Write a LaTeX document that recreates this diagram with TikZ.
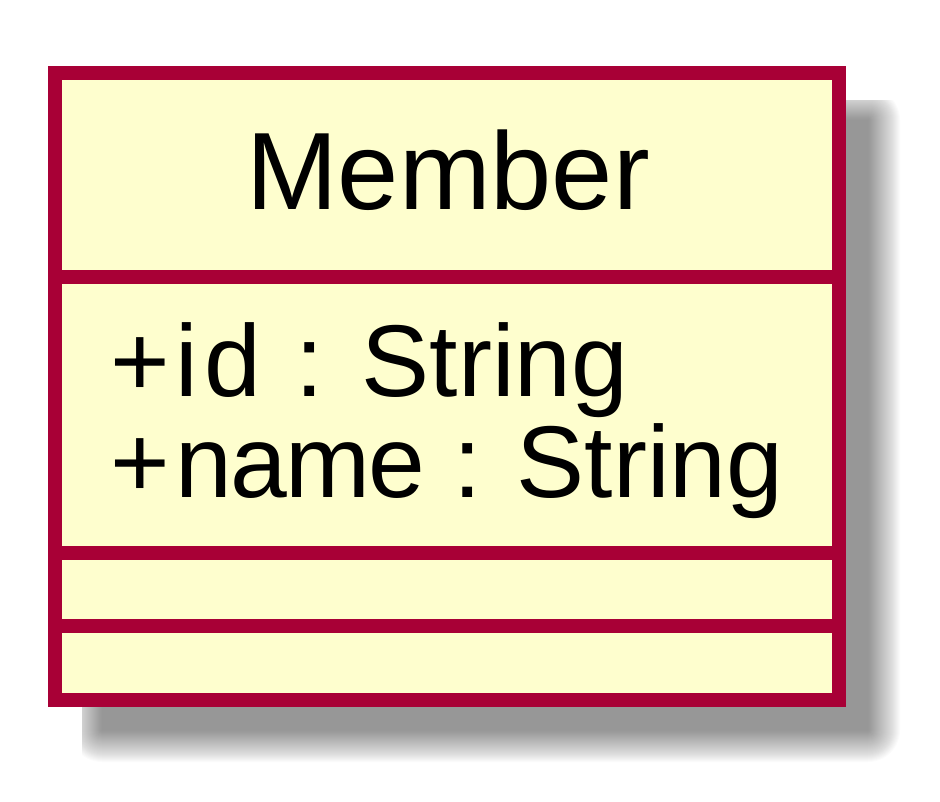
\documentclass[tikz,border=0pt]{standalone}
\usepackage{fontspec}
\setmainfont{Liberation Sans}
\definecolor{umlborder}{HTML}{A80036}
\definecolor{umlfill}{HTML}{FEFECE}
\tikzset{
  classframe/.style={draw=umlborder, fill=umlfill, line width=14pt},
  sepline/.style={draw=umlborder, line width=14pt},
  titletext/.style={inner sep=0pt, anchor=base, font=\fontsize{110}{110}\selectfont},
  attrtext/.style={inner sep=0pt, anchor=base west, font=\fontsize{102}{102}\selectfont},
}
\begin{document}
\begin{tikzpicture}[x=1pt,y=-1pt]
\useasboundingbox (0,0) rectangle (940,801);
% shadow
\begin{scope}
  \clip (82,100) rectangle (940,801);
  \foreach \e in {16,15,...,-16}{
    \pgfmathsetmacro\rc{max(\e+16,0.1)}
    \fill[black, opacity=0.0139, rounded corners=\rc pt] (86-\e,104-\e) rectangle (884+\e,746+\e);
  }
\end{scope}
% class box
\path[classframe] (55,73) rectangle (838.7,700);
\path[sepline] (55,276.5) -- (838.7,276.5);
\path[sepline] (55,552.5) -- (838.7,552.5);
\path[sepline] (55,626.3) -- (838.7,626.3);
\draw[draw=umlborder, line width=14pt] (55,73) rectangle (838.7,700);
% texts
\node[titletext] (title) at (448,209) {Member};
\node[attrtext] (attr1) at (110,396) {+\kern6pt i\kern6pt d\hspace{6.3pt} : String};
\node[attrtext] (attr2) at (110,497) {+\kern6pt n\kern-2pt a\kern-2pt m\kern-2pt e : \hspace{-2.5pt}String};
\end{tikzpicture}
\end{document}
